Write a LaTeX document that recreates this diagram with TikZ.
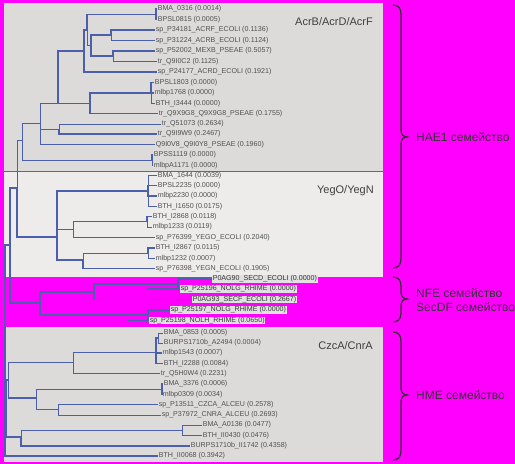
\documentclass[tikz,border=0pt]{standalone}
\usepackage{fontspec}
\setmainfont{Liberation Sans}
\definecolor{magbg}{RGB}{255,0,255}
\definecolor{boxA}{RGB}{220,219,218}
\definecolor{boxB}{RGB}{237,236,235}
\definecolor{branch}{RGB}{75,95,170}
\definecolor{labtxt}{RGB}{80,80,80}
\definecolor{hl}{RGB}{225,225,225}
\tikzset{
  br/.style={draw=branch,line width=1pt},
  bt/.style={line width=1.9pt},
  leaf/.style={anchor=west,inner sep=0.6pt,text=labtxt,font=\fontsize{7.1}{8}\selectfont},
  leafhl/.style={leaf,fill=hl,text=black!80},
  grp/.style={anchor=east,inner sep=0pt,text=black!75,font=\fontsize{11}{12}\selectfont},
  fam/.style={anchor=west,inner sep=0pt,text=black!80,font=\fontsize{12}{13}\selectfont},
  bracel/.style={draw=black!80,line width=1.3pt},
}
\newcommand\edgeto[3][]{\draw[br,#1] (#2) |- (#3);}
\newcommand\famBrace[4]{% name, top, mid, bottom
  \coordinate (#1t) at (393,#2);
  \coordinate (#1m) at (407,#3);
  \coordinate (#1b) at (393,#4);
  \draw[bracel] (#1t) .. controls (398,#2) and (401,#2+3) .. (401,#2+9) -- (401,#3-7)
    .. controls (401,#3-3) and (403,#3) .. (#1m)
    .. controls (403,#3) and (401,#3+3) .. (401,#3+7) -- (401,#4-9)
    .. controls (401,#4-3) and (398,#4) .. (#1b);}
\begin{document}
\begin{tikzpicture}[x=1pt,y=-1pt]
\useasboundingbox (0,0) rectangle (515,464);
\fill[magbg] (0,0) rectangle (515,464);
\fill[boxA] (4,3) rectangle (383,171);
\fill[boxB] (4,172) rectangle (383,277);
\fill[boxA] (4,327) rectangle (383,462);

% group labels
\node[grp] (gA) at (373,22) {AcrB/AcrD/AcrF};
\node[grp] (gB) at (374,191) {YegO/YegN};
\node[grp] (gC) at (373,346) {CzcA/CnrA};

% leaves
\node[leaf] (l1) at (157,9) {BMA\_0316 (0.0014)};
\node[leaf] (l2) at (157,19.5) {BPSL0815 (0.0005)};
\node[leaf] (l3) at (155,30) {sp\_P34181\_ACRF\_ECOLI (0.1136)};
\node[leaf] (l4) at (155,40.5) {sp\_P31224\_ACRB\_ECOLI (0.1124)};
\node[leaf] (l5) at (155,51) {sp\_P52002\_MEXB\_PSEAE (0.5057)};
\node[leaf] (l6) at (157,61.5) {tr\_Q9I0C2 (0.1125)};
\node[leaf] (l7) at (157,72) {sp\_P24177\_ACRD\_ECOLI (0.1921)};
\node[leaf] (l8) at (154,82.5) {BPSL1803 (0.0000)};
\node[leaf] (l9) at (154,93) {mlbp1768 (0.0000)};
\node[leaf] (l10) at (155,103.5) {BTH\_I3444 (0.0000)};
\node[leaf] (l11) at (158,113.5) {tr\_Q9X9G8\_Q9X9G8\_PSEAE (0.1755)};
\node[leaf] (l12) at (161,124) {tr\_Q51073 (0.2634)};
\node[leaf] (l13) at (157,134) {tr\_Q9I9W9 (0.2467)};
\node[leaf] (l14) at (155,144.5) {Q9I0V8\_Q9I0Y8\_PSEAE (0.1960)};
\node[leaf] (l15) at (153,155) {BPSS1119 (0.0000)};
\node[leaf] (l16) at (153,165.5) {mlbpA1171 (0.0000)};
\node[leaf] (l17) at (157,175.5) {BMA\_1644 (0.0039)};
\node[leaf] (l18) at (157,185.5) {BPSL2235 (0.0000)};
\node[leaf] (l19) at (157,196) {mlbp2230 (0.0000)};
\node[leaf] (l20) at (157,206.5) {BTH\_I1650 (0.0175)};
\node[leaf] (l21) at (152,216.5) {BTH\_I2868 (0.0118)};
\node[leaf] (l22) at (152,227) {mlbp1233 (0.0119)};
\node[leaf] (l23) at (155,237.5) {sp\_P76399\_YEGO\_ECOLI (0.2040)};
\node[leaf] (l24) at (155,248) {BTH\_I2867 (0.0115)};
\node[leaf] (l25) at (155,258.5) {mlbp1232 (0.0007)};
\node[leaf] (l26) at (155,268.5) {sp\_P76398\_YEGN\_ECOLI (0.1905)};
\node[leafhl] (l27) at (212,279) {P0AG90\_SECD\_ECOLI (0.0000)};
\node[leafhl] (l28) at (180,289) {sp\_P25196\_NOLG\_RHIME (0.0000)};
\node[leafhl] (l29) at (192,299.5) {P0AG93\_SECF\_ECOLI (0.2667)};
\node[leafhl] (l30) at (170,310) {sp\_P25197\_NOLG\_RHIME (0.0000)};
\node[leafhl] (l31) at (149,320.5) {sp\_P25198\_NOLH\_RHIME (0.0650)};
\node[leaf] (l32) at (163,333) {BMA\_0853 (0.0005)};
\node[leaf] (l33) at (163,343) {BURPS1710b\_A2494 (0.0004)};
\node[leaf] (l34) at (162,353) {mlbp1543 (0.0007)};
\node[leaf] (l35) at (163,363.5) {BTH\_I2288 (0.0084)};
\node[leaf] (l36) at (160,373.5) {tr\_Q5H0W4 (0.2231)};
\node[leaf] (l37) at (163,384) {BMA\_3376 (0.0006)};
\node[leaf] (l38) at (162,394.5) {mlbp0309 (0.0034)};
\node[leaf] (l39) at (158,404.5) {sp\_P13511\_CZCA\_ALCEU (0.2578)};
\node[leaf] (l40) at (161,415) {sp\_P37972\_CNRA\_ALCEU (0.2693)};
\node[leaf] (l41) at (202,425) {BMA\_A0136 (0.0477)};
\node[leaf] (l42) at (202,435.5) {BTH\_II0430 (0.0476)};
\node[leaf] (l43) at (190,446) {BURPS1710b\_II1742 (0.4358)};
\node[leaf] (l44) at (158,456) {BTH\_II0068 (0.3942)};

% internal nodes
\coordinate (A) at (156,14.5);
\coordinate (B) at (111,35);
\coordinate (C) at (113,56);
\coordinate (D) at (91,45.5);
\coordinate (E) at (87,30);
\coordinate (F) at (84,51);
\coordinate (G) at (151,93);
\coordinate (H) at (90,103);
\coordinate (I) at (59,129);
\coordinate (J) at (58,103);
\coordinate (K) at (40,123);
\coordinate (N) at (152,160);
\coordinate (L) at (22,140);
\coordinate (S) at (148,191);
\coordinate (V) at (147,221.5);
\coordinate (W) at (73,229);
\coordinate (U) at (148,253);
\coordinate (T) at (83,260);
\coordinate (Q) at (57,237);
\coordinate (P) at (17,188);
\coordinate (X11) at (178,284);
\coordinate (X1) at (94,292);
\coordinate (X2) at (148,315);
\coordinate (X) at (40,303);
\coordinate (R) at (10,245);
\coordinate (Z1) at (158,338);
\coordinate (Z) at (156,352.5);
\coordinate (Y) at (73,362);
\coordinate (AB) at (162,389);
\coordinate (AC) at (58,409);
\coordinate (AA) at (36,398);
\coordinate (BB) at (8.5,380);
\coordinate (AE) at (182,430);
\coordinate (AD) at (21,437);
\coordinate (CC) at (6.5,408);
\coordinate (root) at (5,350);
\coordinate (n28) at (147,289);
\coordinate (n31) at (127,320.5);

% AcrB clade
\edgeto[bt]{A}{l1.west} \edgeto[bt]{A}{l2.west}
\edgeto[bt]{B}{l3.west} \edgeto{B}{l4.west}
\edgeto[bt]{C}{l5.west} \edgeto{C}{l6.west}
\edgeto[bt]{D}{B} \edgeto[bt]{D}{C}
\edgeto[bt]{E}{A} \edgeto{E}{D}
\edgeto[bt]{F}{E} \edgeto[bt]{F}{l7.west}
\edgeto[bt]{G}{l8.west} \edgeto[bt]{G}{l9.west} \edgeto{G}{l10.west}
\edgeto[bt]{H}{G} \edgeto[bt]{H}{l11.west}
\edgeto{I}{l12.west} \edgeto[bt]{I}{l13.west}
\edgeto[bt]{J}{F} \edgeto{J}{H}
\edgeto{K}{J} \edgeto{K}{I} \edgeto{K}{l14.west}
\edgeto[bt]{N}{l15.west} \edgeto{N}{l16.west}
\edgeto{L}{K} \edgeto{L}{N}
% YegO clade
\edgeto{S}{l17.west} \edgeto[bt]{S}{l18.west} \edgeto[bt]{S}{l19.west} \edgeto{S}{l20.west}
\edgeto[bt]{V}{l21.west} \edgeto{V}{l22.west}
\edgeto{W}{V} \edgeto{W}{l23.west}
\edgeto[bt]{U}{l24.west} \edgeto{U}{l25.west}
\edgeto{T}{U} \edgeto[bt]{T}{l26.west}
\edgeto[bt]{Q}{S} \edgeto{Q}{W} \edgeto[bt]{Q}{T}
\edgeto{P}{L} \edgeto[bt]{P}{Q}
% NFE clade
\edgeto[bt]{X11}{l27.west} \edgeto[bt]{X11}{l28.west}
\draw[br,bt] (l28.west) -- (n28);
\edgeto[bt]{X1}{X11} \edgeto[bt]{X1}{l29.west}
\edgeto[bt]{X2}{l30.west} \edgeto[bt]{X2}{l31.west}
\draw[br,bt] (X2 |- l31.west) -- (n31);
\edgeto[bt]{X}{X1} \edgeto[bt]{X}{X2}
\edgeto[bt]{R}{P} \edgeto[bt]{R}{X}
% CzcA clade
\edgeto{Z1}{l32.west} \edgeto{Z1}{l33.west}
\edgeto[bt]{Z}{Z1} \edgeto[bt]{Z}{l34.west} \edgeto[bt]{Z}{l35.west}
\edgeto{Y}{Z} \edgeto{Y}{l36.west}
\edgeto[bt]{AB}{l37.west} \edgeto[bt]{AB}{l38.west}
\edgeto{AC}{l39.west} \edgeto{AC}{l40.west}
\edgeto{AA}{AB} \edgeto{AA}{AC}
\edgeto{BB}{Y} \edgeto[bt]{BB}{AA}
\edgeto{AE}{l41.west} \edgeto{AE}{l42.west}
\edgeto{AD}{AE} \edgeto[bt]{AD}{l43.west}
\edgeto[bt]{CC}{BB} \edgeto[bt]{CC}{AD}
\edgeto[bt]{root}{R} \edgeto[bt]{root}{CC} \edgeto[bt]{root}{l44.west}

% braces and family labels
\famBrace{hae}{5}{137}{268}
\famBrace{nfe}{277}{299}{322}
\famBrace{hme}{332}{395}{460}
\node[fam] (fHAE) at (416,137) {HAE1 семейство};
\node[fam] (fNFE) at (416,293) {NFE семейство};
\node[fam] (fSec) at (416,307) {SecDF семейство};
\node[fam] (fHME) at (416,395) {HME семейство};
\end{tikzpicture}
\end{document}
